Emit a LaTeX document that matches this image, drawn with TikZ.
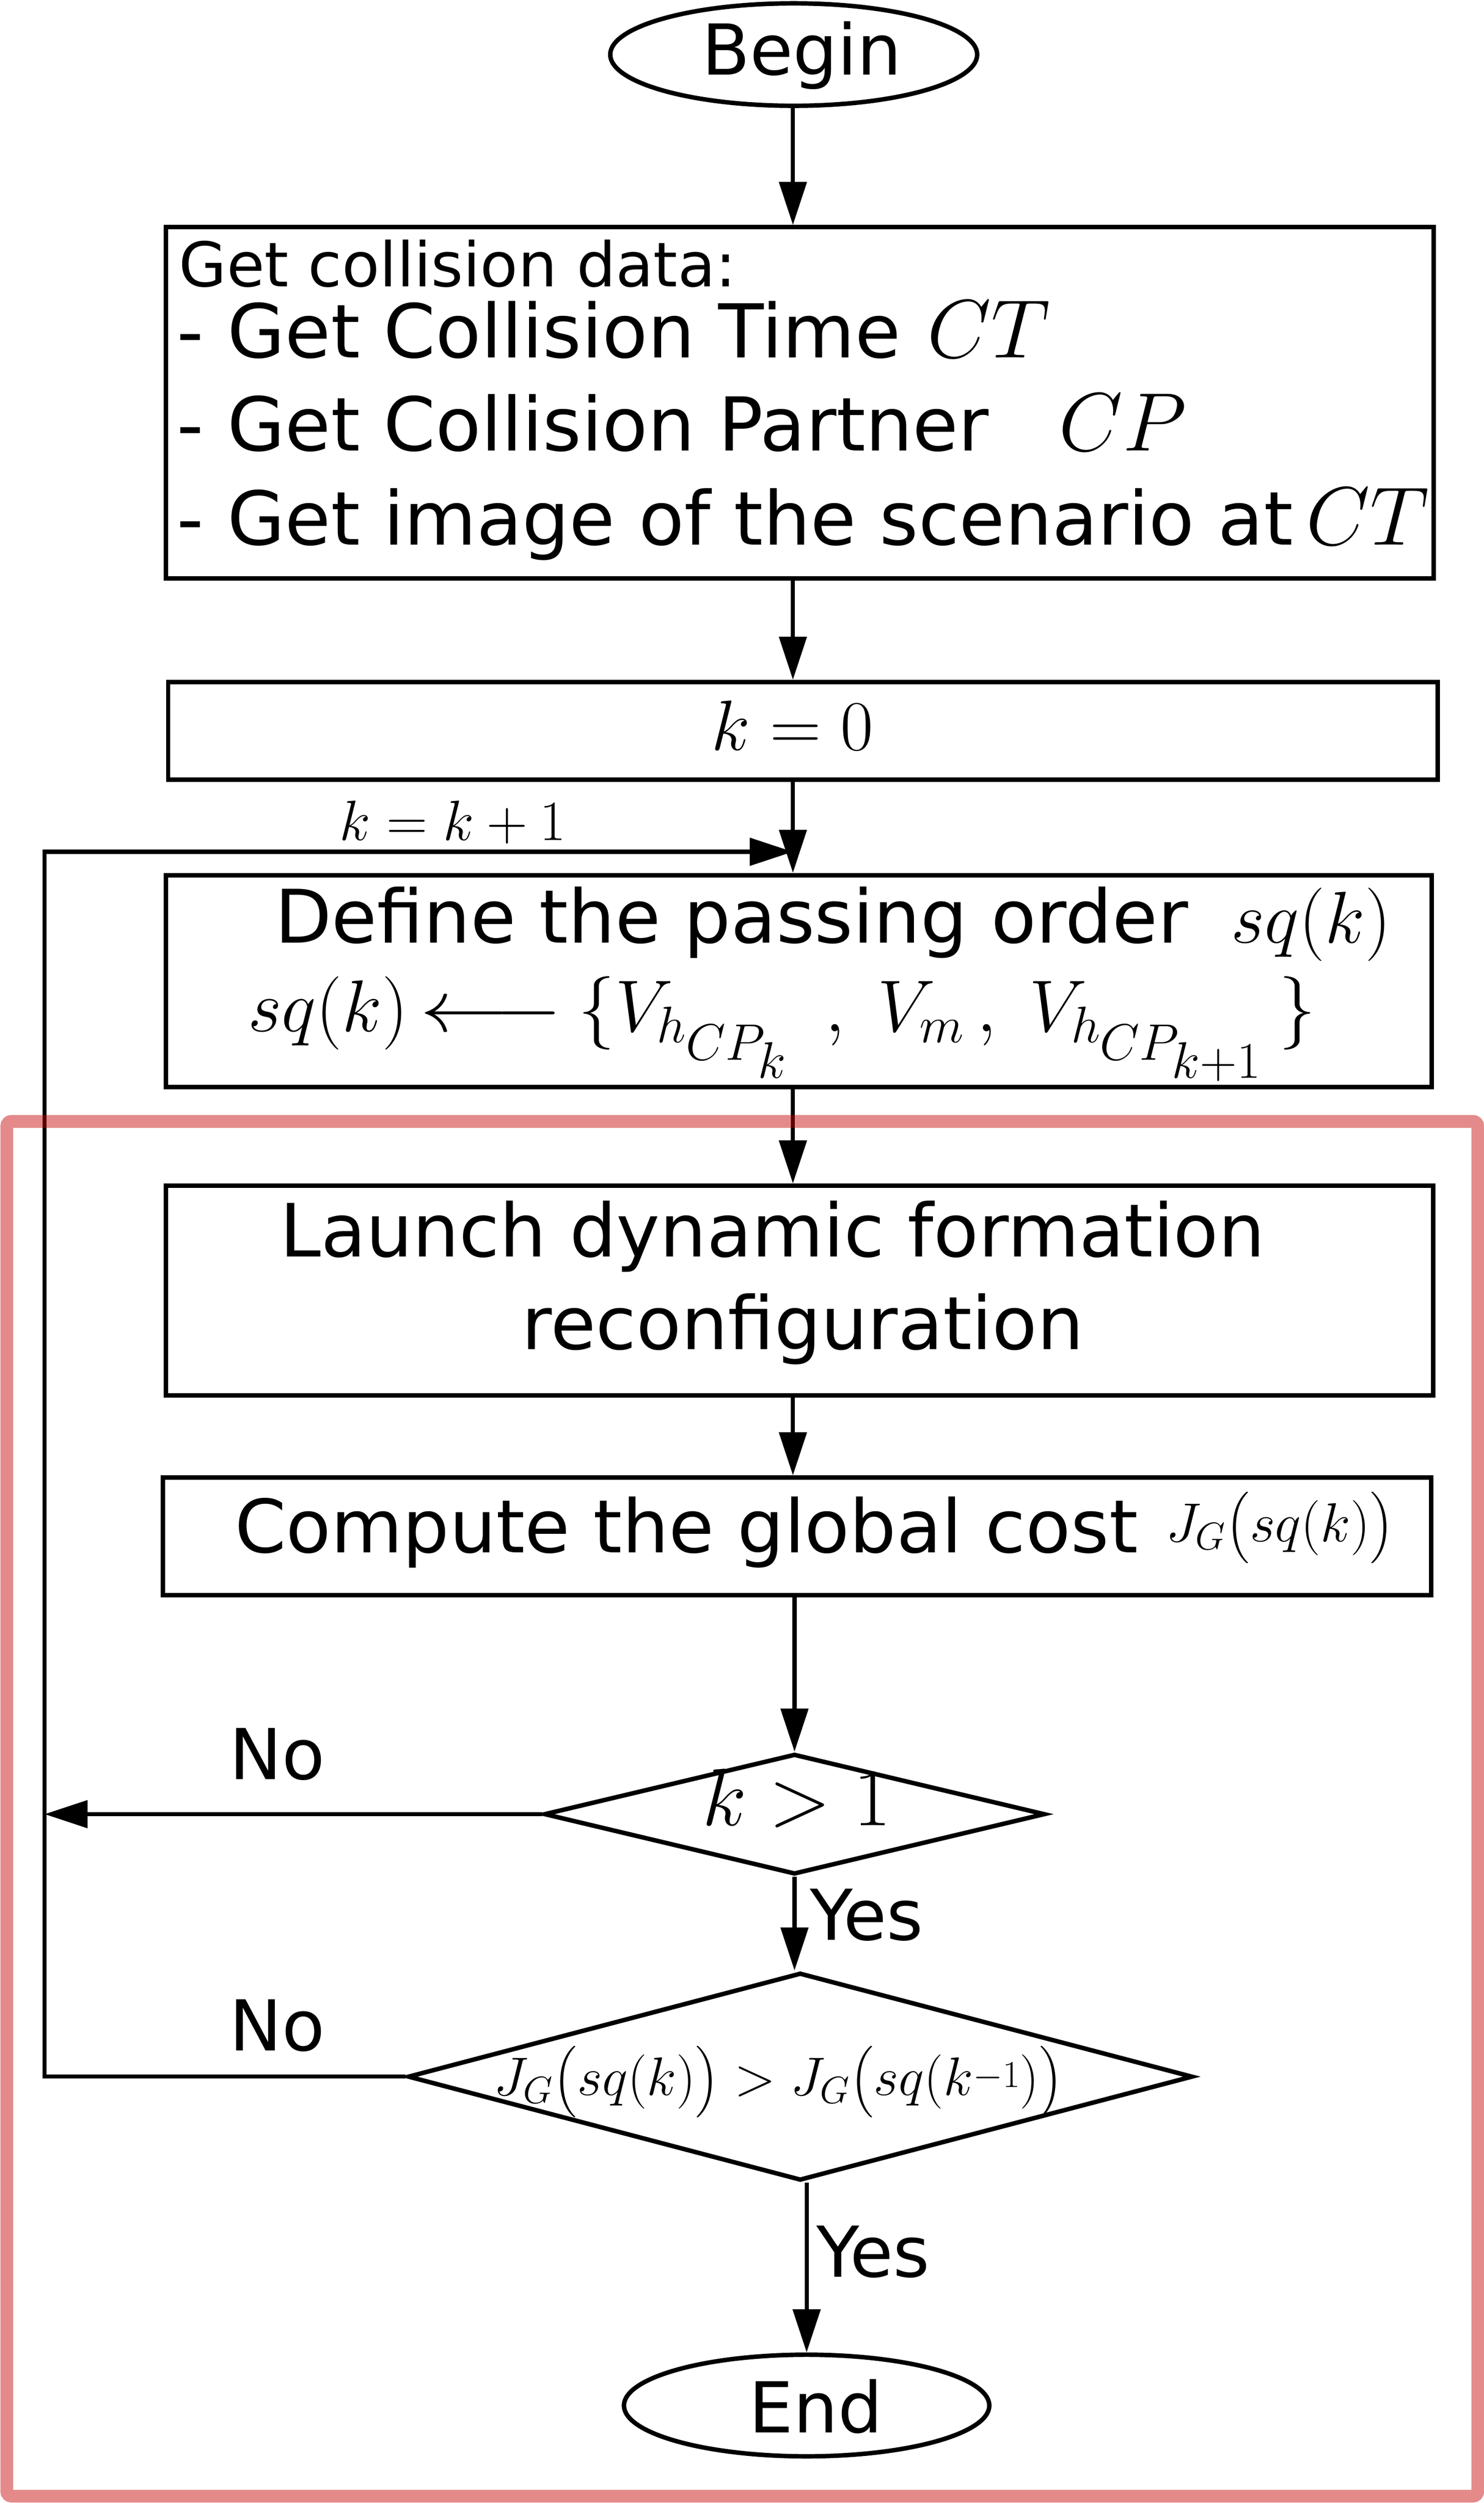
\RequirePackage{fix-cm}
\documentclass[tikz,border=0pt]{standalone}
\usepackage{amsmath}
\usepackage{graphicx}
\usepackage[no-math]{fontspec}
\newfontfamily\dv{DejaVu Sans}
\usetikzlibrary{arrows.meta,shapes.geometric}
\newcommand\setfs[2]{\fontsize{#1}{#2}\selectfont}
\definecolor{framered}{RGB}{196,0,0}
\begin{document}
\begin{tikzpicture}[x=1pt,y=-1pt,
  shapeline/.style={draw, line width=2.8pt},
  boxnode/.style={shapeline, rectangle, inner sep=0pt},
  term/.style={shapeline, ellipse, inner sep=0pt},
  cond/.style={shapeline, diamond, inner sep=0pt, aspect=4},
  conn/.style={line width=2.6pt},
  arr/.style={conn, -{Triangle[length=27pt,width=17pt]}},
  txt/.style={inner sep=0pt, anchor=base west, font=\dv},
  frame/.style={draw=framered, draw opacity=0.46, line width=8pt, rounded corners=3pt, inner sep=0pt, rectangle}
]
\useasboundingbox (0,0) rectangle (930,1568.6);

% shapes
\node[term, minimum width=230pt, minimum height=64.2pt] (begin) at (497.5,34.2) {};
\node[boxnode, minimum width=794.6pt, minimum height=220.2pt] (box1) at (501.3,252.5) {};
\node[boxnode, minimum width=795.8pt, minimum height=61.2pt] (box2) at (503.3,458) {};
\node[boxnode, minimum width=793.2pt, minimum height=132.9pt] (box3) at (500.7,614.85) {};
\node[boxnode, minimum width=794.3pt, minimum height=131.5pt] (box4) at (501.25,808.85) {};
\node[boxnode, minimum width=795pt, minimum height=73.6pt] (box5) at (499.7,962.8) {};
\node[cond, minimum width=314pt, minimum height=75.5pt] (d1) at (498,1136.9) {};
\node[cond, minimum width=492pt, minimum height=130.2pt] (d2) at (501.6,1301.4) {};
\node[term, minimum width=229pt, minimum height=63.7pt] (end) at (505.6,1507.5) {};

% texts
\node[txt] (tbegin) at (439.7,46.8) {\setfs{44}{53}Begin};
\node[txt] (t1a) at (112,179.7) {\setfs{38.6}{46}Get collision data:};
\node[txt] (t1b) at (110.8,224) {\setfs{46.6}{56}- Get Collision Time};
\node[txt] (m1b) at (581,224) {\setfs{52}{62}$CT$};
\node[txt] (t1c) at (110.8,282.4) {\setfs{46.6}{56}- Get Collision Partner};
\node[txt] (m1c) at (663.4,282.4) {\setfs{52}{62}$CP$};
\node[txt] (t1d) at (110.8,341.5) {\setfs{46.6}{56}- Get image of the scenario at};
\node[txt] (m1d) at (818.4,341.5) {\setfs{52}{62}$CT$};
\node[txt] (t2) at (445.7,470) {\setfs{44.6}{53}$k=0$};
\node[txt] (tinc) at (212.8,526.5) {\setfs{35.6}{43}$k=k+1$};
\node[txt] (t3a) at (172.1,591) {\setfs{46.3}{56}Define the passing order};
\node[txt] (m3a) at (771.3,591) {\setfs{46}{55}$sq(k)$};
\node[txt] (m3b) at (155.2,646.4) {\setfs{46}{55}$sq(k)\mkern3mu{\scalebox{1.2}[1]{$\longleftarrow$}}\mkern4mu\{V_{h_{\scriptstyle CP_{\scriptstyle k}}}\mkern9mu,\mkern5mu V_m\mkern3mu,\mkern5mu V_{h_{\scriptstyle CP_{\scriptstyle k+1}}}\mkern4mu\}$};
\node[txt] (t4a) at (175.4,787.5) {\setfs{46.1}{55}Launch dynamic formation};
\node[txt] (t4b) at (327,845.6) {\setfs{46.1}{55}reconfiguration};
\node[txt] (t5) at (147,973) {\setfs{46.1}{55}Compute the global cost};
\node[txt] (m5) at (730.5,966) {\setfs{34.5}{42}$J_G\bigl(sq(k)\bigr)$};
\node[txt] (md1) at (440,1144) {\setfs{51}{61}$k>1$};
\node[txt] (md2) at (309.4,1313) {\setfs{34}{41}$J_G\bigl(sq(k)\bigr)>J_G\bigl(sq(k\mbox{\raisebox{0.15em}{$\scriptstyle-1$}})\bigr)$};
\node[txt] (no1) at (143.7,1115) {\setfs{44}{53}No};
\node[txt] (no2) at (143.7,1285) {\setfs{44}{53}No};
\node[txt] (yes1) at (507.5,1215.7) {\setfs{44}{53}Yes};
\node[txt] (yes2) at (511.5,1427) {\setfs{44}{53}Yes};
\node[txt] (tend) at (469.4,1524.4) {\setfs{44}{53}End};

% connectors
\coordinate (cx) at (497,0);
\coordinate (lt) at (27.9,533.8);
\coordinate (lj) at (497,533.8);
\draw[arr] (begin.south -| cx) -- (box1.north -| cx);
\draw[arr] (box1.south -| cx) -- (box2.north -| cx);
\draw[arr] (box2.south -| cx) -- (box3.north -| cx);
\draw[arr] (box3.south -| cx) -- (box4.north -| cx);
\draw[arr] (box4.south -| cx) -- (box5.north -| cx);
\draw[arr] (box5.south -| d1.north) -- (d1.north);
\draw[arr] (d1.south) -- (d1.south |- d2.north);
\draw[arr] (d2.south -| end.north) -- (end.north);
\draw[arr] (d1.west) -- (d1.west -| lt);
\draw[arr] (d2.west) -- (d2.west -| lt) -- (lt) -- (lj);

% highlighted region
\node[frame, minimum width=922pt, minimum height=861.55pt] (frame) at (465.25,1133.5) {};
\end{tikzpicture}
\end{document}
